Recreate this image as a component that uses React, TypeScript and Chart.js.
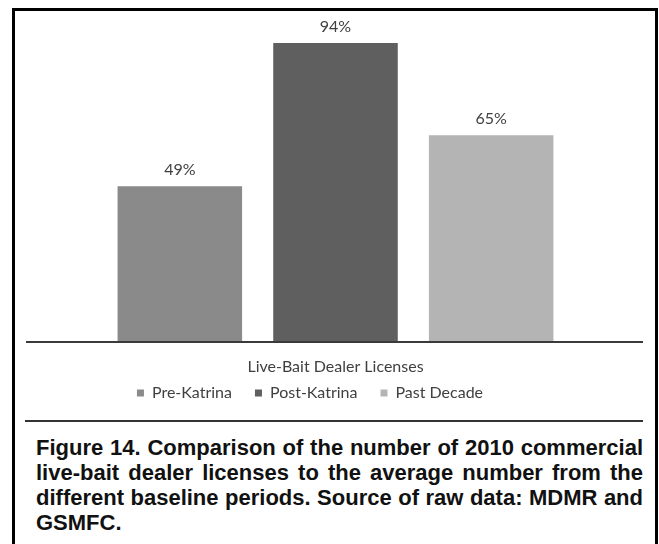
import React, { useEffect, useRef } from "react";
import { Chart, registerables } from "chart.js";

Chart.register(...registerables);

// ---- data ----
const categories = ["Live-Bait Dealer Licenses"];
const seriesNames = ["Pre-Katrina", "Post-Katrina", "Past Decade"];
const preKatrina = [49];
const postKatrina = [94];
const pastDecade = [65];
const seriesColors = ["#8a8a8a", "#5f5f5f", "#b4b4b4"];
const yMin = 0;
const yMax = 100;
const captionLines = [
  "Figure 14. Comparison of the number of 2010 commercial",
  "live-bait dealer licenses to the average number from the",
  "different baseline periods. Source of raw data: MDMR and",
  "GSMFC.",
];

const FONT = "Lato, 'Open Sans', sans-serif";
const TEXT_COLOR = "#404040";
const FONT_SIZE = 16;

const baselinePlugin = {
  id: "baselineAxis",
  afterDatasetsDraw(chart: any) {
    const { ctx, scales, chartArea } = chart;
    const y = Math.round(scales.y.getPixelForValue(0));
    ctx.save();
    ctx.strokeStyle = "#3a3a3a";
    ctx.lineWidth = 2;
    ctx.beginPath();
    ctx.moveTo(chartArea.left - 76, y);
    ctx.lineTo(chartArea.right + 74, y);
    ctx.stroke();
    ctx.restore();
  },
};

const valueLabelPlugin = {
  id: "valueLabels",
  afterDatasetsDraw(chart: any) {
    const { ctx } = chart;
    ctx.save();
    ctx.font = `${FONT_SIZE}px ${FONT}`;
    ctx.fillStyle = TEXT_COLOR;
    ctx.textAlign = "center";
    ctx.textBaseline = "middle";
    chart.data.datasets.forEach((ds: any, i: number) => {
      const meta = chart.getDatasetMeta(i);
      meta.data.forEach((bar: any, j: number) => {
        ctx.fillText(`${ds.data[j]}%`, bar.x, bar.y - 16);
      });
    });
    ctx.restore();
  },
};

function BarChart() {
  const ref = useRef<HTMLCanvasElement | null>(null);
  useEffect(() => {
    if (!ref.current) return;
    const seriesData = [preKatrina, postKatrina, pastDecade];
    const chart = new Chart(ref.current, {
      type: "bar",
      data: {
        labels: categories,
        datasets: seriesNames.map((name, i) => ({
          label: name,
          data: seriesData[i],
          backgroundColor: seriesColors[i],
          borderWidth: 0,
          categoryPercentage: 1.0,
          barPercentage: 0.8,
        })),
      },
      options: {
        responsive: false,
        animation: false,
        layout: { padding: { left: 51, right: 90, top: 24, bottom: 1 } },
        scales: {
          x: {
            grid: { display: false, drawTicks: false },
            border: { display: false },
            ticks: { display: false },
            title: {
              display: true,
              text: categories[0],
              color: TEXT_COLOR,
              font: { family: FONT, size: FONT_SIZE },
              padding: { top: 0, bottom: -14 },
            },
            afterFit: (s: any) => {
              s.height = 20;
            },
          },
          y: {
            min: yMin,
            max: yMax,
            grid: { display: false, drawTicks: false },
            border: { display: false },
            ticks: { display: false },
            afterFit: (s: any) => {
              s.width = 51;
            },
          },
        },
        plugins: {
          legend: {
            position: "bottom",
            labels: {
              boxWidth: 7,
              boxHeight: 7,
              padding: 23,
              color: TEXT_COLOR,
              font: { family: FONT, size: FONT_SIZE },
            },
          },
          tooltip: { enabled: false },
        },
      },
      plugins: [baselinePlugin, valueLabelPlugin],
    } as any);
    return () => chart.destroy();
  }, []);
  return (
    <canvas
      ref={ref}
      width={659}
      height={412}
      style={{ position: "absolute", left: 0, top: 0, width: 659, height: 412 }}
    />
  );
}

export default function App() {
  return (
    <div
      style={{
        position: "fixed",
        left: 0,
        top: 0,
        width: 659,
        height: 544,
        background: "#fff",
        overflow: "hidden",
      }}
    >
      <div
        style={{
          position: "absolute",
          left: 12,
          top: 8,
          width: 646,
          height: 560,
          border: "3px solid #000",
          borderBottom: "none",
          boxSizing: "border-box",
        }}
      />
      <BarChart />
      <div
        style={{
          position: "absolute",
          left: 25,
          top: 420,
          width: 618,
          height: 2,
          background: "#333",
        }}
      />
      <div
        style={{
          position: "absolute",
          left: 36,
          top: 435,
          width: 607,
          fontFamily: "'Liberation Sans', Arial, Helvetica, sans-serif",
          fontWeight: "bold",
          fontSize: 22,
          color: "#111",
        }}
      >
        {captionLines.map((line, i) => (
          <div
            key={i}
            style={{
              height: 25,
              lineHeight: "25px",
              whiteSpace: "nowrap",
              textAlign: i < captionLines.length - 1 ? "justify" : "left",
              textAlignLast: i < captionLines.length - 1 ? "justify" : "left",
            }}
          >
            {line}
          </div>
        ))}
      </div>
    </div>
  );
}
